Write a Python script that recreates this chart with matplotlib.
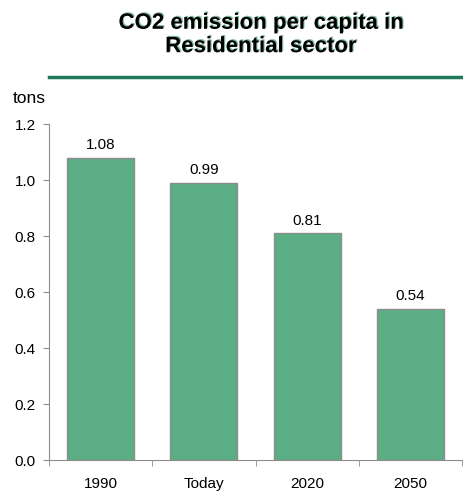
import matplotlib.pyplot as plt
import matplotlib.patheffects as pe
from matplotlib.lines import Line2D

categories = ['1990', 'Today', '2020', '2050']
values = [1.08, 0.99, 0.81, 0.54]
value_labels = ['1.08', '0.99', '0.81', '0.54']
yticks = [0.0, 0.2, 0.4, 0.6, 0.8, 1.0, 1.2]

plt.rcParams['font.family'] = ['Liberation Sans', 'DejaVu Sans']

fig = plt.figure(figsize=(4.63, 4.91), dpi=100)
ax = fig.add_axes([49 / 463, 1 - 460 / 491, 413 / 463, 336 / 491])

x = range(len(categories))
ax.bar(x, values, width=0.65, color='#5BAE84', edgecolor='#8C8C8C', linewidth=1)
for i, v in enumerate(values):
    ax.text(i, v + 0.02, value_labels[i], ha='center', va='bottom', fontsize=11)

ax.set_xlim(-0.5, len(categories) - 0.5)
ax.set_ylim(0, 1.2)
ax.set_yticks(yticks)
ax.set_yticklabels(['%.1f' % t for t in yticks], fontsize=11)
ax.set_xticks(list(x))
ax.set_xticklabels(categories, fontsize=11)
ax.set_xticks([i - 0.5 for i in range(len(categories) + 1)], minor=True)
ax.tick_params(axis='x', which='major', length=0, pad=12)
ax.tick_params(axis='x', which='minor', length=4.5, color='#8C8C8C', direction='out')
ax.tick_params(axis='y', length=4.5, color='#8C8C8C', direction='out', pad=5)

for s in ['top', 'right']:
    ax.spines[s].set_visible(False)
for s in ['left', 'bottom']:
    ax.spines[s].set_color('#8C8C8C')

# title with faint green shadow like the original slide
fig.text(0.563, 1 - 35 / 491, 'CO2 emission per capita in\nResidential sector', ha='center', va='center',
         fontsize=16, fontweight='bold', linespacing=1.15,
         path_effects=[pe.SimplePatchShadow(offset=(0.8, 0.8), shadow_rgbFace='#2E8B60', alpha=0.6),
                       pe.Normal()])
fig.add_artist(Line2D([49 / 463, 1.0], [1 - 77 / 491] * 2, color='#1F7A5A', lw=2.5))
fig.text(13 / 463, 1 - 98 / 491, 'tons', ha='left', va='center', fontsize=12.5)

fig.savefig('out.png', dpi=100)
